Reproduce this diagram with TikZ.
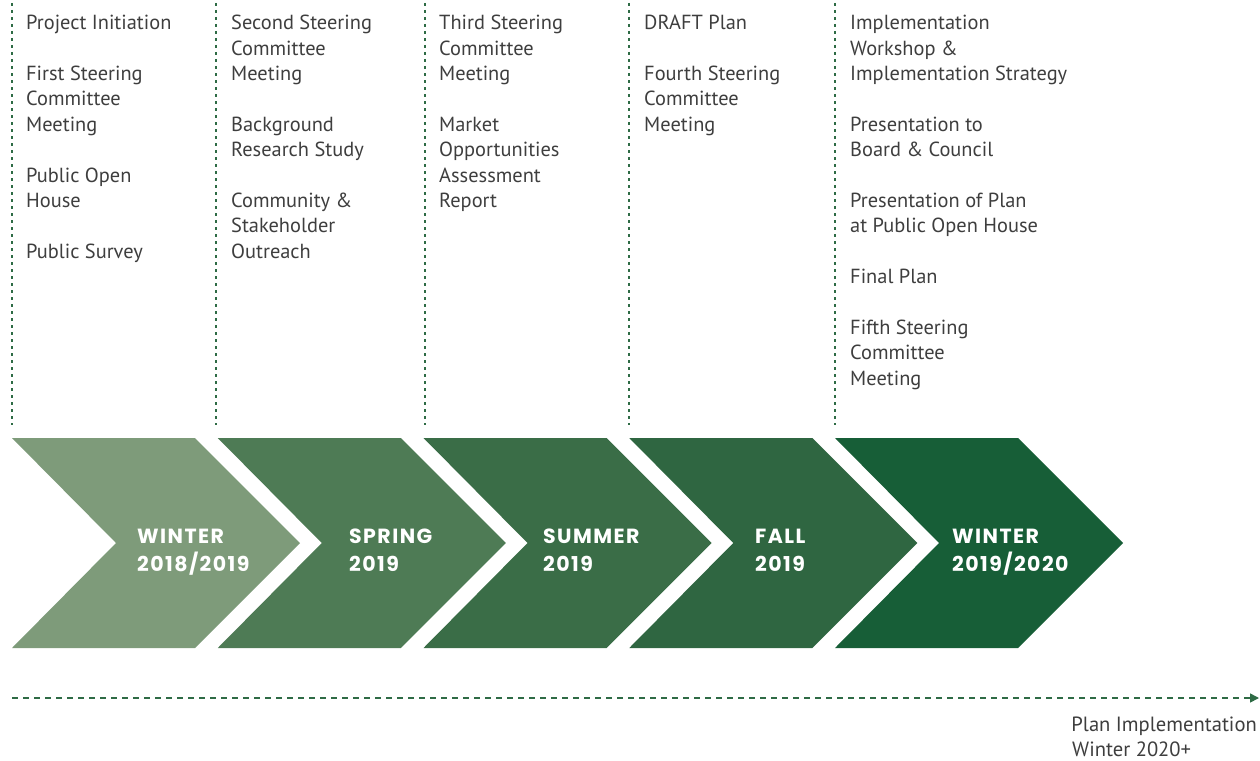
\documentclass[tikz,border=0pt]{standalone}
\usepackage{fontspec}
\setmainfont{PT Sans}
\newfontfamily\labfont[LetterSpace=7]{Poppins}
\usetikzlibrary{arrows.meta}
\definecolor{txtgray}{HTML}{3E3E3E}
\definecolor{dashgreen}{HTML}{2E6B45}
\definecolor{cA}{HTML}{7E9B7A}
\definecolor{cB}{HTML}{4E7B55}
\definecolor{cC}{HTML}{3A6D47}
\definecolor{cD}{HTML}{2F6641}
\definecolor{cE}{HTML}{175E37}
\tikzset{
  coltext/.style={anchor=north west, inner sep=0pt, align=left, text=txtgray,
    font=\fontsize{20.4}{25.4}\selectfont},
  seplines/.style={draw=dashgreen, line width=1.6pt, dash pattern=on 3pt off 4pt},
  timeline/.style={draw=dashgreen, line width=1.6pt, dash pattern=on 6pt off 5pt,
    -{Triangle[length=9pt,width=9pt]}},
  chevlab/.style={anchor=west, inner sep=0pt, align=left, text=white,
    font=\labfont\bfseries\fontsize{20.5}{28}\selectfont},
  foot/.style={inner sep=0pt, text=txtgray, font=\fontsize{20.6}{25}\selectfont}
}
\newcommand{\chev}[2]{%
  \fill[#2] (#1,438) -- ++(183,0) -- ++(105,105) -- ++(-105,105) -- ++(-183,0) -- ++(104,-105) -- cycle;}
\begin{document}
\begin{tikzpicture}[x=1pt,y=-1pt]
\useasboundingbox (0,0) rectangle (1260,760);
% separators
\foreach \i/\xx in {1/12,2/216,3/425,4/629,5/835}{
  \coordinate (st\i) at (\xx,3);
  \coordinate (sb\i) at (\xx,425);
  \draw[seplines] (st\i) -- (sb\i);
}
% column texts
\node[coltext] (col1) at (26,15) {Project Initiation\\[25.4pt]First Steering\\Committee\\Meeting\\[25.4pt]Public Open\\House\\[25.4pt]Public Survey};
\node[coltext] (col2) at (231,15) {Second Steering\\Committee\\Meeting\\[25.4pt]Background\\Research Study\\[25.4pt]Community \&\\Stakeholder\\Outreach};
\node[coltext] (col3) at (439,15) {Third Steering\\Committee\\Meeting\\[25.4pt]Market\\Opportunities\\Assessment\\Report};
\node[coltext] (col4) at (644,15) {DRAFT Plan\\[25.4pt]Fourth Steering\\Committee\\Meeting};
\node[coltext] (col5) at (850,15) {Implementation\\Workshop \&\\Implementation Strategy\\[25.4pt]Presentation to\\Board \& Council\\[25.4pt]Presentation of Plan\\at Public Open House\\[25.4pt]Final Plan\\[25.4pt]Fifth Steering\\Committee\\Meeting};
% chevrons
\chev{12}{cA}
\chev{217.75}{cB}
\chev{423.5}{cC}
\chev{629.25}{cD}
\chev{835}{cE}
% chevron labels
\node[chevlab] (lab1) at (137,552) {\strut WINTER\\\strut 2018/2019};
\node[chevlab] (lab2) at (349,552) {\strut SPRING\\\strut 2019};
\node[chevlab] (lab3) at (543,552) {\strut SUMMER\\\strut 2019};
\node[chevlab] (lab4) at (755,552) {\strut FALL\\\strut 2019};
\node[chevlab] (lab5) at (952,552) {\strut WINTER\\\strut 2019/2020};
% timeline
\coordinate (tl0) at (12,698);
\coordinate (tl1) at (1259,698);
\draw[timeline] (tl0) -- (tl1);
\node[foot, anchor=east] (f1) at (1257,726) {Plan Implementation};
\node[foot, anchor=west] (f2) at (1072,749) {Winter 2020+};
\end{tikzpicture}
\end{document}
